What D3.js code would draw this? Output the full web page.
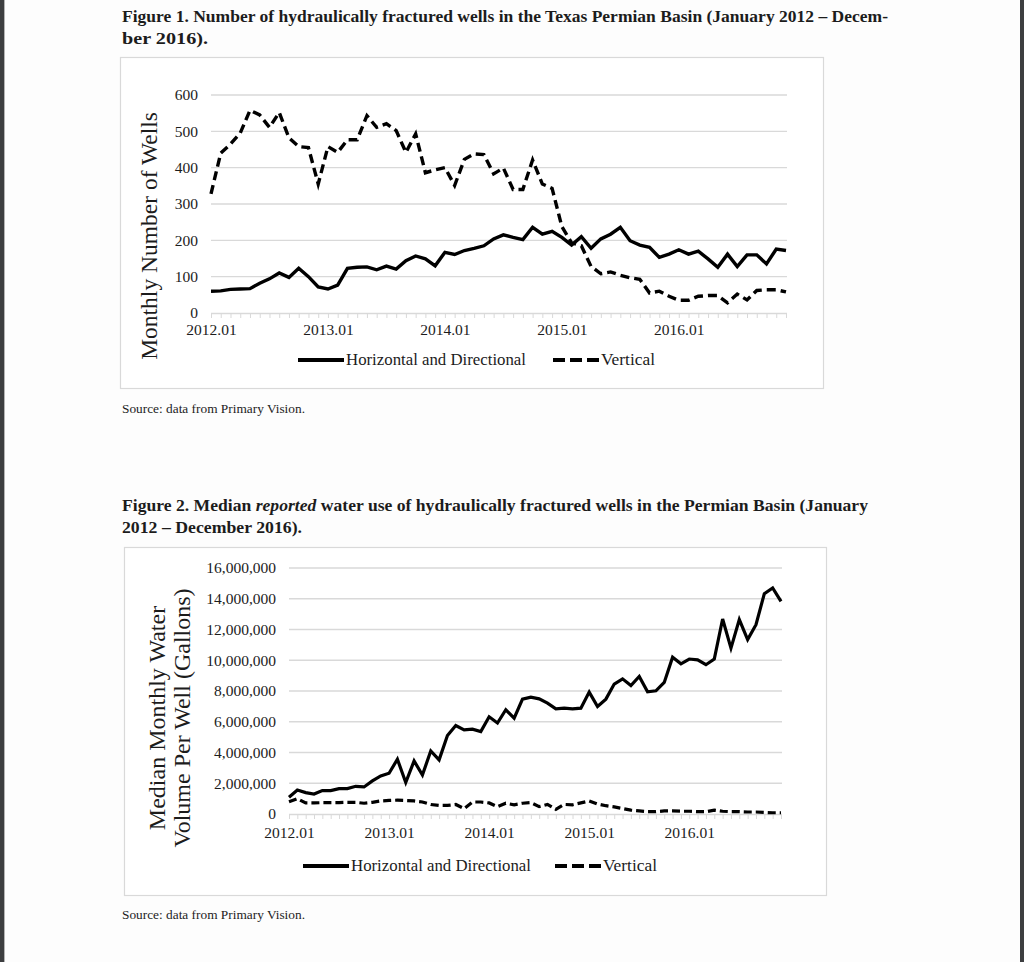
<!DOCTYPE html>
<html>
<head>
<meta charset="utf-8">
<script src="https://cdn.jsdelivr.net/npm/d3@7"></script>
<style>
  html, body { margin: 0; padding: 0; background: #fdfdfd; }
  svg { display: block; }
  text { font-family: "Liberation Serif", "Times New Roman", serif; fill: #1c1c1c; }
</style>
</head>
<body>
<svg id="page" width="1024" height="962"></svg>
<script>
// month categories 2012.01 .. 2016.12
const months = d3.range(2012, 2017)
    .flatMap(y => d3.range(1, 13).map(m => `${ y }.${ String(m).padStart(2, "0") }`));
const yearLabels = ["2012.01", "2013.01", "2014.01", "2015.01", "2016.01"];
const wellTicks = [0, 100, 200, 300, 400, 500, 600];
const waterTicks = [0, 2000000, 4000000, 6000000, 8000000, 10000000, 12000000, 14000000, 16000000];
const seriesNames = ["Horizontal and Directional", "Vertical"];

// Figure 1: monthly number of wells
const wellsHorizontal = [
    60, 61, 65, 66, 67, 82, 94, 110, 98, 123, 100, 72,
    66, 77, 123, 126, 127, 119, 129, 121, 144, 157, 149, 130,
    167, 161, 172, 178, 185, 204, 215, 208, 202, 236, 217, 225,
    208, 187, 210, 178, 204, 217, 236, 199, 187, 181, 153, 162,
    174, 162, 170, 149, 126, 162, 128, 160, 160, 135, 176, 172
];
const wellsVertical = [
    328, 440, 465, 495, 558, 545, 511, 552, 482, 458, 455, 355,
    458, 442, 477, 477, 543, 511, 521, 502, 442, 493, 386, 394,
    400, 351, 423, 438, 436, 383, 399, 340, 340, 421, 355, 343,
    238, 193, 185, 128, 108, 113, 104, 97, 93, 55, 60, 46,
    35, 35, 46, 48, 48, 28, 52, 36, 62, 64, 64, 58
];

// Figure 2: median monthly water volume per well (gallons)
const waterHorizontal = [
    1090000, 1560000, 1390000, 1300000, 1520000, 1520000, 1650000, 1650000, 1800000, 1760000, 2150000, 2480000,
    2650000, 3560000, 2050000, 3450000, 2540000, 4100000, 3520000, 5100000, 5750000, 5470000, 5520000, 5360000,
    6320000, 5920000, 6780000, 6230000, 7470000, 7600000, 7490000, 7210000, 6840000, 6880000, 6840000, 6880000,
    7930000, 6990000, 7470000, 8450000, 8790000, 8360000, 8950000, 7950000, 8010000, 8560000, 10200000, 9770000,
    10080000, 10030000, 9710000, 10080000, 12680000, 10790000, 12640000, 11340000, 12310000, 14330000, 14700000, 13830000
];
const waterVertical = [
    800000, 1000000, 720000, 720000, 740000, 740000, 740000, 760000, 760000, 700000, 760000, 850000,
    880000, 900000, 880000, 850000, 780000, 620000, 560000, 560000, 620000, 350000, 780000, 780000,
    720000, 480000, 700000, 600000, 700000, 740000, 480000, 620000, 300000, 620000, 600000, 720000,
    850000, 650000, 540000, 460000, 360000, 250000, 200000, 150000, 150000, 200000, 200000, 180000,
    180000, 150000, 150000, 250000, 180000, 150000, 150000, 130000, 130000, 100000, 80000, 80000
];

const svg = d3.select("#page");

// page edges (dark viewer strips)
svg.append("rect").attr("x", 0).attr("y", 0).attr("width", 4).attr("height", 962).attr("fill", "#3d3e40");
svg.append("rect").attr("x", 4).attr("y", 0).attr("width", 1).attr("height", 962).attr("fill", "#b4b4b4");
svg.append("rect").attr("x", 1020).attr("y", 0).attr("width", 4).attr("height", 962).attr("fill", "#3d3e40");

const titleLine = (x, y, width, parts) => {
    const t = svg.append("text")
        .attr("x", x)
        .attr("y", y)
        .attr("font-size", 17.5)
        .attr("font-weight", "bold")
        .attr("fill", "#111")
        .attr("textLength", width)
        .attr("lengthAdjust", "spacingAndGlyphs");
    parts.forEach(p => t.append("tspan")
        .attr("font-style", p.italic ? "italic" : null)
        .text(p.text));
    return t;
};

const sourceLine = (y) => svg.append("text")
    .attr("x", 122)
    .attr("y", y)
    .attr("font-size", 12.5)
    .attr("fill", "#2a2a2a")
    .attr("textLength", 183)
    .attr("lengthAdjust", "spacingAndGlyphs")
    .text("Source: data from Primary Vision.");

function drawChart(cfg) {
    const g = svg.append("g");

    g.append("rect")
        .attr("x", cfg.frame[0]).attr("y", cfg.frame[1])
        .attr("width", cfg.frame[2]).attr("height", cfg.frame[3])
        .attr("fill", "#fff")
        .attr("stroke", "#d9d9d9")
        .attr("stroke-width", 1.2);

    const x = d3.scalePoint().domain(months).range(cfg.xRange);
    const y = d3.scaleLinear().domain(d3.extent(cfg.yTicks)).range(cfg.yRange);

    // horizontal gridlines
    g.append("g")
        .selectAll("line")
        .data(cfg.yTicks.slice(1))
        .join("line")
        .attr("x1", cfg.xRange[0])
        .attr("x2", cfg.xRange[1] + 1)
        .attr("y1", d => y(d))
        .attr("y2", d => y(d))
        .attr("stroke", "#d9d9d9")
        .attr("stroke-width", 1.4);

    // y tick labels
    const yAxis = g.append("g")
        .attr("transform", `translate(${ cfg.xRange[0] - 10 },0)`)
        .call(d3.axisLeft(y).tickValues(cfg.yTicks).tickFormat(cfg.yFormat).tickSize(0).tickPadding(3));
    yAxis.select(".domain").remove();
    yAxis.selectAll("text")
        .attr("font-family", "Liberation Serif")
        .attr("font-size", cfg.fontSize)
        .attr("fill", "#1c1c1c");

    // x axis: a minor tick every month, labels every January
    const xAxis = g.append("g")
        .attr("transform", `translate(0,${ cfg.yRange[0] })`)
        .call(d3.axisBottom(x).tickValues(months).tickSize(5).tickSizeOuter(0)
            .tickFormat(d => yearLabels.includes(d) ? d : ""));
    xAxis.select(".domain")
        .attr("stroke", "#d9d9d9")
        .attr("stroke-width", 1.4)
        .attr("d", `M${ cfg.xRange[0] },0.5H${ cfg.xRange[1] + 1 }`);
    xAxis.selectAll(".tick line").attr("stroke", "#d9d9d9").attr("stroke-width", 1);
    xAxis.selectAll("text")
        .attr("font-family", "Liberation Serif")
        .attr("font-size", cfg.fontSize)
        .attr("fill", "#1c1c1c")
        .attr("dy", cfg.xLabelDy);

    // series
    const line = d3.line().x((d, i) => x(months[i])).y(d => y(d));
    cfg.series.forEach((s, k) => g.append("path")
        .datum(s)
        .attr("d", line)
        .attr("fill", "none")
        .attr("stroke", "#000")
        .attr("stroke-width", cfg.lineWidth)
        .attr("stroke-linejoin", "miter")
        .attr("stroke-dasharray", k === 1 ? cfg.dash : null));

    // y axis title
    const yt = g.append("text")
        .attr("transform", `translate(${ cfg.yTitlePos[0] },${ cfg.yTitlePos[1] }) rotate(-90)`)
        .attr("text-anchor", "middle")
        .attr("font-size", cfg.yTitleSize)
        .attr("fill", "#111");
    cfg.yTitle.forEach((t, i) => yt.append("tspan")
        .attr("x", 0)
        .attr("dy", i === 0 ? 0 : cfg.yTitleSize * 1.05)
        .text(t));

    // legend
    const legend = g.append("g");
    seriesNames.forEach((name, k) => {
        const lx = cfg.legendX[k];
        legend.append("line")
            .attr("x1", lx).attr("x2", lx + 46)
            .attr("y1", cfg.legendY).attr("y2", cfg.legendY)
            .attr("stroke", "#000")
            .attr("stroke-width", 4)
            .attr("stroke-dasharray", k === 1 ? "12,5" : null);
        legend.append("text")
            .attr("x", lx + 48)
            .attr("y", cfg.legendY + 5)
            .attr("font-size", cfg.legendSize)
            .attr("textLength", k === 0 ? 180 : 54)
            .attr("lengthAdjust", "spacingAndGlyphs")
            .text(name);
    });
}

titleLine(122, 22, 766, [{ text: "Figure 1. Number of hydraulically fractured wells in the Texas Permian Basin (January 2012 \u2013 Decem-" }]);
titleLine(122, 44, 86, [{ text: "ber 2016)." }]);

drawChart({
    frame: [120.5, 57.5, 703, 331],
    xRange: [211, 786],
    yRange: [313, 95],
    yTicks: wellTicks,
    yFormat: d3.format("d"),
    fontSize: 15.5,
    xLabelDy: "0.9em",
    series: [wellsHorizontal, wellsVertical],
    lineWidth: 3.4,
    dash: "9,5",
    yTitle: ["Monthly Number of Wells"],
    yTitlePos: [157, 236],
    yTitleSize: 23.5,
    legendX: [298, 553],
    legendY: 360,
    legendSize: 16.5
});

sourceLine(413);

titleLine(122, 511, 746, [
    { text: "Figure 2. Median " },
    { text: "reported", italic: true },
    { text: " water use of hydraulically fractured wells in the Permian Basin (January" }
]);
titleLine(122, 533, 180, [{ text: "2012 \u2013 December 2016)." }]);

drawChart({
    frame: [124.5, 547.5, 702, 348],
    xRange: [289, 781],
    yRange: [814, 568],
    yTicks: waterTicks,
    yFormat: d3.format(","),
    fontSize: 15.5,
    xLabelDy: "1.0em",
    series: [waterHorizontal, waterVertical],
    lineWidth: 3.2,
    dash: "8,4",
    yTitle: ["Median Monthly Water", "Volume Per Well (Gallons)"],
    yTitlePos: [165, 718],
    yTitleSize: 24,
    legendX: [303, 555],
    legendY: 866,
    legendSize: 16.5
});

sourceLine(919);
</script>
</body>
</html>
